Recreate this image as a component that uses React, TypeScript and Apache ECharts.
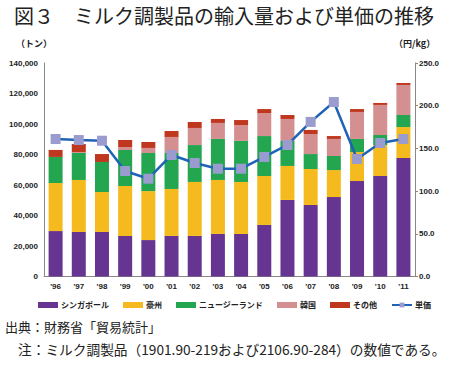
import React, { useEffect, useRef } from "react";
import * as echarts from "echarts";

const categories = ["'96", "'97", "'98", "'99", "'00", "'01", "'02", "'03", "'04", "'05", "'06", "'07", "'08", "'09", "'10", "'11"];
const singapore = [29800, 29200, 29200, 26600, 23900, 26600, 26600, 27900, 27900, 33800, 50200, 46900, 52100, 62600, 65900, 77700];
const australia = [31500, 34100, 26200, 32700, 32100, 30800, 35400, 35400, 34100, 32100, 22300, 23600, 17700, 19000, 20300, 20300];
const newZealand = [17100, 17700, 19700, 23700, 25000, 23600, 24200, 26900, 26900, 26200, 16400, 9800, 9200, 8600, 6600, 7900];
const korea = [0, 600, 0, 1900, 3300, 10500, 11200, 10500, 10400, 15100, 14400, 13100, 11200, 17700, 19700, 19700];
const others = [4600, 5300, 5200, 4600, 3900, 3900, 3900, 2600, 3300, 2600, 2600, 2700, 1900, 1900, 1300, 1300];
const unitPrice = [161, 159.8, 159, 123.5, 114.5, 142.3, 132.9, 126.2, 126.2, 140, 154, 181, 204.3, 137.6, 156.3, 161];

const seriesNames = ["シンガポール", "豪州", "ニュージーランド", "韓国", "その他", "単価"];
const colors = ["#663591", "#F4BA1E", "#23A64F", "#D49090", "#C0371F"];

const JP = "'Noto Sans CJK JP', 'Noto Sans', sans-serif";

export default function App() {
  const ref = useRef<HTMLDivElement>(null);
  useEffect(() => {
    if (!ref.current) return;
    const chart = echarts.init(ref.current, null, { renderer: "svg" });
    const stacks = [singapore, australia, newZealand, korea, others];
    const barSeries = stacks.map((d, i) => ({
      name: seriesNames[i],
      type: "bar",
      stack: "total",
      data: d,
      barWidth: 14,
      itemStyle: { color: colors[i] },
      yAxisIndex: 0,
    }));
    chart.setOption({
      animation: false,
      textStyle: { fontFamily: JP },
      grid: { left: 44, right: 37, top: 63, bottom: 88.5, containLabel: false },
      legend: {
        left: 33,
        top: 296,
        itemGap: 14,
        itemWidth: 20,
        itemHeight: 6,
        textStyle: { fontSize: 8, color: "#222", fontFamily: JP, fontWeight: "bold", padding: [0, 0, 0, -2] },
        data: [
          { name: seriesNames[0], icon: "rect" },
          { name: seriesNames[1], icon: "rect" },
          { name: seriesNames[2], icon: "rect" },
          { name: seriesNames[3], icon: "rect" },
          { name: seriesNames[4], icon: "rect" },
          { name: seriesNames[5] },
        ],
      },
      xAxis: {
        type: "category",
        data: categories,
        axisLine: { lineStyle: { color: "#888", width: 1 } },
        axisTick: { show: false },
        axisLabel: { fontSize: 8, color: "#222", fontWeight: "bold", margin: 6, fontFamily: "'Liberation Sans', sans-serif" },
      },
      yAxis: [
        {
          type: "value",
          min: 0,
          max: 140000,
          interval: 20000,
          splitLine: { show: false },
          axisLine: { show: true, lineStyle: { color: "#888", width: 1 } },
          axisTick: { show: false },
          axisLabel: {
            fontSize: 8,
            color: "#222",
            fontWeight: "bold",
            margin: 6,
            fontFamily: "'Liberation Sans', sans-serif",
            formatter: (v: number) => v.toLocaleString("en-US"),
          },
        },
        {
          type: "value",
          min: 0,
          max: 250,
          interval: 50,
          position: "right",
          splitLine: { show: false },
          axisLine: { show: true, lineStyle: { color: "#888", width: 1 } },
          axisTick: { show: true, length: 3, lineStyle: { color: "#888" } },
          axisLabel: {
            fontSize: 8,
            color: "#222",
            fontWeight: "bold",
            margin: 4,
            fontFamily: "'Liberation Sans', sans-serif",
            formatter: (v: number) => v.toFixed(1),
          },
        },
      ],
      series: [
        ...barSeries,
        {
          name: seriesNames[5],
          type: "line",
          yAxisIndex: 1,
          data: unitPrice,
          symbol: "rect",
          symbolSize: 10,
          lineStyle: { color: "#1F63B6", width: 2.5 },
          itemStyle: { color: "#9A9CD0" },
          z: 10,
        },
      ],
      graphic: [
        {
          type: "text",
          left: 14,
          top: 5,
          style: { text: "図３　ミルク調製品の輸入量および単価の推移", fontSize: 20, fill: "#222", fontFamily: JP },
        },
        {
          type: "text",
          left: 16,
          top: 39,
          style: { text: "（トン）", fontSize: 9, fill: "#222", fontFamily: JP, fontWeight: "bold" },
        },
        {
          type: "text",
          left: 394,
          top: 39,
          style: { text: "（円/kg）", fontSize: 9, fill: "#222", fontFamily: JP, fontWeight: "bold" },
        },
        {
          type: "text",
          left: 5,
          top: 320,
          style: { text: "出典：財務省「貿易統計」", fontSize: 13, fill: "#222", fontFamily: JP },
        },
        {
          type: "text",
          left: 18,
          top: 342,
          style: { text: "注：ミルク調製品（1901.90-219および2106.90-284）の数値である。", fontSize: 13.7, fill: "#222", fontFamily: JP },
        },
      ],
    });
    return () => chart.dispose();
  }, []);
  return <div ref={ref} style={{ width: 452, height: 365, position: "absolute", left: 0, top: 0, background: "#fff" }} />;
}
